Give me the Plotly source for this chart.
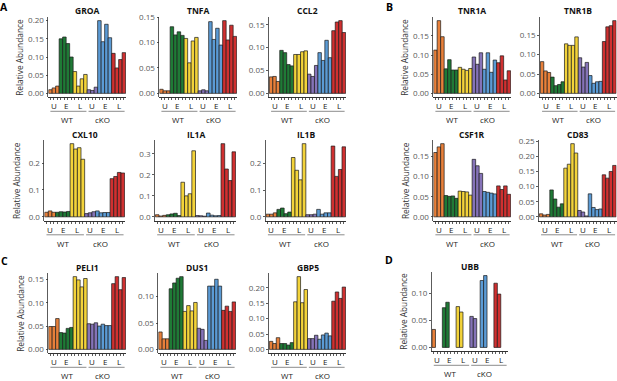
import plotly.graph_objects as go

W, H = 617, 381

# ---------------- data ----------------
group_labels = ["U", "E", "L", "U", "E", "L"]
group_sizes = [3, 4, 4, 3, 4, 4]
group_colors = ["#E8803A", "#1F7A36", "#F3D33A", "#8573B8", "#5B9BD5", "#D03030"]
genotype_labels = ["WT", "cKO"]

GROA = [0.010, 0.015, 0.020, 0.150, 0.155, 0.137, 0.100, 0.060, 0.020, 0.040, 0.052,
        0.010, 0.008, 0.017, 0.200, 0.142, 0.190, 0.153, 0.110, 0.070, 0.093, 0.112]
TNFA = [0.008, 0.005, 0.005, 0.131, 0.115, 0.121, 0.114, 0.108, 0.060, 0.103, 0.110,
        0.005, 0.007, 0.005, 0.141, 0.106, 0.128, 0.095, 0.143, 0.105, 0.134, 0.112]
CCL2 = [0.036, 0.037, 0.026, 0.094, 0.089, 0.063, 0.060, 0.085, 0.085, 0.091, 0.093,
        0.042, 0.037, 0.061, 0.089, 0.072, 0.116, 0.078, 0.137, 0.156, 0.159, 0.133]
TNR1A = [0.113, 0.190, 0.148, 0.064, 0.088, 0.061, 0.061, 0.068, 0.063, 0.060, 0.065,
         0.095, 0.076, 0.106, 0.063, 0.106, 0.055, 0.087, 0.080, 0.098, 0.035, 0.059]
TNR1B = [0.082, 0.058, 0.054, 0.042, 0.020, 0.023, 0.030, 0.128, 0.124, 0.124, 0.146,
         0.092, 0.068, 0.080, 0.046, 0.026, 0.030, 0.031, 0.134, 0.172, 0.175, 0.188]
CXL10 = [0.017, 0.022, 0.017, 0.017, 0.019, 0.018, 0.020, 0.272, 0.252, 0.257, 0.214,
         0.012, 0.015, 0.019, 0.022, 0.015, 0.016, 0.016, 0.142, 0.150, 0.165, 0.163]
IL1A = [0.010, 0.004, 0.007, 0.010, 0.014, 0.017, 0.006, 0.165, 0.100, 0.110, 0.315,
        0.006, 0.005, 0.003, 0.018, 0.008, 0.005, 0.006, 0.349, 0.228, 0.173, 0.310]
IL1B = [0.010, 0.010, 0.015, 0.028, 0.033, 0.012, 0.018, 0.223, 0.175, 0.139, 0.275,
        0.008, 0.008, 0.010, 0.028, 0.010, 0.015, 0.015, 0.266, 0.152, 0.178, 0.263]
CSF1R = [0.160, 0.174, 0.182, 0.053, 0.051, 0.052, 0.046, 0.064, 0.063, 0.062, 0.054,
         0.143, 0.127, 0.108, 0.063, 0.061, 0.059, 0.057, 0.077, 0.068, 0.077, 0.056]
CD83 = [0.010, 0.006, 0.008, 0.089, 0.059, 0.032, 0.043, 0.161, 0.174, 0.242, 0.211,
        0.021, 0.016, 0.003, 0.076, 0.031, 0.024, 0.026, 0.139, 0.128, 0.150, 0.170]
PELI1 = [0.049, 0.049, 0.066, 0.036, 0.035, 0.045, 0.047, 0.156, 0.149, 0.134, 0.152,
         0.055, 0.054, 0.057, 0.050, 0.054, 0.051, 0.051, 0.141, 0.156, 0.128, 0.154]
DUS1 = [0.033, 0.020, 0.020, 0.115, 0.126, 0.135, 0.138, 0.072, 0.083, 0.073, 0.089,
        0.040, 0.038, 0.017, 0.120, 0.120, 0.133, 0.120, 0.074, 0.082, 0.072, 0.090]
GBP5 = [0.026, 0.019, 0.038, 0.019, 0.019, 0.014, 0.022, 0.155, 0.237, 0.152, 0.195,
        0.035, 0.035, 0.046, 0.033, 0.047, 0.053, 0.044, 0.157, 0.187, 0.166, 0.203]
UBB = [0.033, None, None, 0.073, 0.083, None, None, 0.075, 0.065, None, None,
       0.057, 0.053, None, 0.123, 0.132, None, None, 0.118, 0.098, None, None]

# ---------------- layout of panels (pixels) ----------------
# name, values, x-left, x-right, y-top, y-bottom, tickformat, dtick, show y title
panels = [
    ("GROA", GROA, 48.3, 126, 17, 97, ".2f", 0.05, True),
    ("TNFA", TNFA, 159.3, 237, 17, 97, ".2f", 0.05, False),
    ("CCL2", CCL2, 269, 346, 17, 97, ".2f", 0.05, False),
    ("TNR1A", TNR1A, 433.3, 511, 17, 97, ".2f", 0.05, True),
    ("TNR1B", TNR1B, 540, 616.5, 17, 97, ".2f", 0.05, False),
    ("CXL10", CXL10, 44.3, 125, 140, 220.5, ".1f", 0.1, True),
    ("IL1A", IL1A, 155, 236, 140, 220.5, ".1f", 0.1, False),
    ("IL1B", IL1B, 265.7, 346, 140, 220.5, ".1f", 0.1, False),
    ("CSF1R", CSF1R, 433.3, 511, 140, 220.5, ".2f", 0.05, True),
    ("CD83", CD83, 539, 616.5, 140, 220.5, ".2f", 0.05, False),
    ("PELI1", PELI1, 48.3, 126, 273, 353, ".2f", 0.05, True),
    ("DUS1", DUS1, 158.3, 236, 273, 353, ".2f", 0.05, False),
    ("GBP5", GBP5, 269, 346, 273, 353, ".2f", 0.05, False),
    ("UBB", UBB, 431.7, 508, 272, 351, ".2f", 0.05, True),
]

panel_letters = [("A", 4, 7), ("B", 389, 7), ("C", 4, 261), ("D", 389, 260)]

FONT = "Open Sans"
n_bars = sum(group_sizes)
xpos = list(range(1, n_bars + 1))
bar_colors = []
for c, s in zip(group_colors, group_sizes):
    bar_colors += [c] * s
group_centers = []
start = 1
for s in group_sizes:
    group_centers.append(start + (s - 1) / 2)
    start += s


def px_x(p):
    return p / W


def px_y(p):
    return 1 - p / H


fig = go.Figure()
layout = dict(
    template="none",
    width=W, height=H, margin=dict(l=0, r=0, t=0, b=0, pad=0),
    paper_bgcolor="white", plot_bgcolor="white",
    showlegend=False, font=dict(family=FONT, size=8, color="#333333"),
)
annotations = []
shapes = []

for i, (name, vals, xl, xr, yt, yb, fmt, dt, ytitle) in enumerate(panels, start=1):
    xa = "x" if i == 1 else f"x{i}"
    ya = "y" if i == 1 else f"y{i}"
    fig.add_trace(go.Bar(
        x=xpos, y=vals, width=1.0,
        marker=dict(color=bar_colors, line=dict(color="#1a1a1a", width=0.7)),
        xaxis=xa, yaxis=ya, hoverinfo="skip",
    ))
    m = max(v for v in vals if v is not None)
    layout[f"xaxis{i}"] = dict(
        domain=[px_x(xl), px_x(xr)], anchor=ya, range=[0.4, n_bars + 0.6],
        automargin=False,
        showline=True, linecolor="#333333", linewidth=1,
        ticks="outside", ticklen=2, tickwidth=0.8, tickcolor="#333333",
        tickvals=xpos, ticktext=[""] * n_bars,
        showgrid=False, zeroline=False, fixedrange=True,
    )
    layout[f"yaxis{i}"] = dict(
        domain=[px_y(yb), px_y(yt)], anchor=xa, range=[-0.05 * m, 1.05 * m],
        automargin=False,
        showline=True, linecolor="#333333", linewidth=0.8,
        ticks="outside", ticklen=2, tickwidth=0.8, tickcolor="#333333",
        tick0=0, dtick=dt, tickformat=fmt,
        tickfont=dict(family=FONT, size=8, color="#595959"),
        showgrid=False, zeroline=False, fixedrange=True,
    )
    # panel title
    annotations.append(dict(
        text=f"<b>{name}</b>", x=px_x((xl + xr) / 2), y=px_y(yt - 6),
        xref="paper", yref="paper", showarrow=False,
        font=dict(family=FONT, size=8.5, color="#111111"),
        xanchor="center", yanchor="middle",
    ))
    # group labels U / E / L
    for lab, cx in zip(group_labels, group_centers):
        annotations.append(dict(
            text=lab, x=cx, y=px_y(yb + 8.5), xref=xa, yref="paper",
            showarrow=False, font=dict(family=FONT, size=8, color="#222222"),
            xanchor="center", yanchor="middle",
        ))
    # genotype underlines and labels
    for (x0, x1, tx), lab in zip([(1.0, 11.3, 5.6), (11.9, 22.2, 15.8)], genotype_labels):
        shapes.append(dict(
            type="line", xref=xa, yref="paper", x0=x0, x1=x1,
            y0=px_y(yb + 14.3), y1=px_y(yb + 14.3),
            line=dict(color="#8c8c8c", width=1),
        ))
        annotations.append(dict(
            text=lab, x=tx, y=px_y(yb + 22.5), xref=xa, yref="paper",
            showarrow=False, font=dict(family=FONT, size=8, color="#222222"),
            xanchor="center", yanchor="middle",
        ))
    if ytitle:
        annotations.append(dict(
            text="Relative Abundance", textangle=-90,
            x=px_x(xl - 28.5), y=px_y((yt + yb) / 2), xref="paper", yref="paper",
            showarrow=False, font=dict(family=FONT, size=8.3, color="#333333"),
            xanchor="center", yanchor="middle",
        ))

for letter, lx, ly in panel_letters:
    annotations.append(dict(
        text=f"<b>{letter}</b>", x=px_x(lx), y=px_y(ly), xref="paper", yref="paper",
        showarrow=False, font=dict(family=FONT, size=10.5, color="#000000"),
        xanchor="center", yanchor="middle",
    ))

layout["annotations"] = annotations
layout["shapes"] = shapes
fig.update_layout(**layout)
fig.write_html(
    "out.html",
    config={"displayModeBar": False, "staticPlot": True},
    post_script="document.body.style.margin='0';document.body.style.padding='0';"
                "document.body.style.overflow='hidden';",
)
